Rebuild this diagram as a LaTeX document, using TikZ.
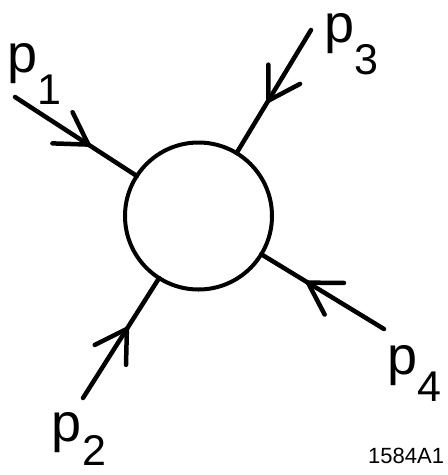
\documentclass[tikz,border=0pt]{standalone}
\usepackage{fontspec}
\setmainfont{Liberation Sans}
\usetikzlibrary{calc}
\tikzset{
    every node/.style={inner sep=0pt,outer sep=0pt},
    blob/.style={circle,draw,line width=4pt,minimum size=147pt},
    leg/.style={line width=4.5pt,line cap=round,line join=round},
    plab/.style={anchor=base west,font=\fontsize{54}{54}\selectfont},
    figno/.style={anchor=base east,font=\fontsize{22}{22}\selectfont}
}
\newcommand{\mom}[2]{p\raisebox{-#1}{\fontsize{43}{43}\selectfont #2}}

\begin{document}
\begin{tikzpicture}[x=1pt,y=-1pt]
\useasboundingbox (0,0) rectangle (448,475);
\node[blob] (blob) at (198.5,216) {};
% outer ends of the four legs
\coordinate (end1) at (15,97);
\coordinate (end2) at (83,398);
\coordinate (end3) at (311,30);
\coordinate (end4) at (384,329);
\foreach \src/\pos in {end1/0.4, end2/0.38, end3/0.38, end4/0.41} {
    \coordinate (mid) at ($(\src)!\pos!(blob.center)$);
    \draw[leg] (\src) -- (blob);
    % open barbs pointing in
    \draw[leg] ($(mid)!36pt!31:(\src)$) -- (mid) -- ($(mid)!36pt!-31:(\src)$);
}
% momentum labels
\node[plab] (lab1) at (7,72) {\mom{32pt}{1}};
\node[plab] (lab2) at (52,441) {\mom{24pt}{2}};
\node[plab] (lab3) at (324,42) {\mom{32pt}{3}};
\node[plab] (lab4) at (387,374) {\mom{27pt}{4}};
\node[figno] (fig) at (444,463) {1584A1};
\end{tikzpicture}
\end{document}
